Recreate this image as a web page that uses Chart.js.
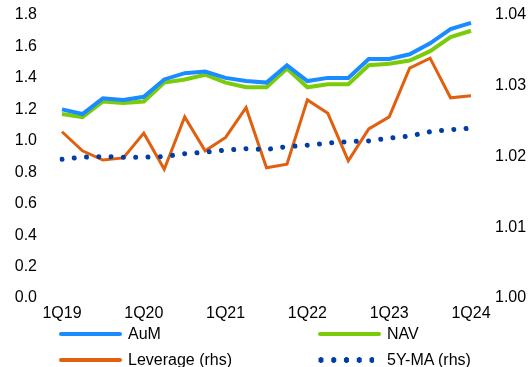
<!DOCTYPE html>
<html>
<head>
<meta charset="utf-8">
<script src="https://cdn.jsdelivr.net/npm/chart.js@4/dist/chart.umd.min.js"></script>
<style>
  body { margin: 0; background: #fff; font-family: "Liberation Sans", Arial, sans-serif; }
  #wrap { position: relative; width: 531px; height: 367px; }
  #legend { position: absolute; left: 0; top: 0; width: 531px; height: 367px; pointer-events: none; }
  .item { position: absolute; height: 20px; font-size: 16px; color: #000; line-height: 20px; }
  .item .swatch { position: absolute; left: 0; top: 8px; width: 63px; height: 4px; border-radius: 2px; }
  .item .dots { position: absolute; left: 0; top: 7px; width: 56px; height: 6px;
    background-image: radial-gradient(circle, #003da5 2.6px, transparent 3px);
    background-size: 12.75px 6px; background-position: -3.4px 0; }
  .item span { position: absolute; left: 69px; top: 0; white-space: nowrap; }
</style>
</head>
<body>
<div id="wrap">
  <canvas id="chart" width="531" height="367"></canvas>
  <div id="legend"></div>
</div>
<script>
var quarters = ["1Q19","2Q19","3Q19","4Q19","1Q20","2Q20","3Q20","4Q20","1Q21","2Q21","3Q21","4Q21",
                "1Q22","2Q22","3Q22","4Q22","1Q23","2Q23","3Q23","4Q23","1Q24"];
var aum = [1.20,1.17,1.27,1.26,1.28,1.39,1.43,1.44,1.40,1.38,1.37,1.48,1.38,1.40,1.40,1.52,1.52,1.55,1.62,1.71,1.75];
var nav = [1.17,1.15,1.25,1.24,1.25,1.37,1.39,1.42,1.37,1.34,1.34,1.46,1.34,1.36,1.36,1.48,1.49,1.51,1.57,1.66,1.70];
var leverage = [1.0235,1.0208,1.0195,1.0198,1.0233,1.0182,1.0256,1.0208,1.0227,1.0269,1.0184,1.0189,
                1.0280,1.0261,1.0194,1.0239,1.0256,1.0325,1.0339,1.0283,1.0286];
var movingAvg = [1.0196,1.0199,1.0200,1.0199,1.0199,1.0200,1.0204,1.0206,1.0209,1.0211,1.0210,1.0214,
                 1.0216,1.0219,1.0221,1.0222,1.0226,1.0229,1.0235,1.0238,1.0240];
var leftTicks = [0, 1.8, 0.2];      // min, max, step
var rightTicks = [1.00, 1.04, 0.01];

var colors = { aum: "#1a8cff", nav: "#7acc0a", lev: "#e0600f", ma: "#003da5" };

// fixed axis sizes so the plot area sits where the original one does
function fixWidth(w){
    return function(scale){
        scale.width = w;
        scale.paddingTop = 0;
        scale.paddingBottom = 0;
    };
}

var ctx = document.getElementById("chart");
var chart = new Chart(ctx, {
    type: "line",
    data: {
        labels: quarters,
        datasets: [
            { label: "AuM", data: aum, yAxisID: "y", borderColor: colors.aum, borderWidth: 4, order: 2 },
            { label: "NAV", data: nav, yAxisID: "y", borderColor: colors.nav, borderWidth: 4, order: 3 },
            { label: "Leverage (rhs)", data: leverage, yAxisID: "y2", borderColor: colors.lev, borderWidth: 3, order: 1 },
            { label: "5Y-MA (rhs)", data: movingAvg, yAxisID: "y2", borderColor: colors.ma, borderWidth: 5,
              borderDash: [0.001, 12.3], borderCapStyle: "round", order: 0 }
        ]
    },
    options: {
        responsive: false,
        animation: false,
        layout: { padding: { top: 15, left: 0, right: 0, bottom: 0 } },
        elements: { point: { radius: 0 }, line: { tension: 0, borderJoinStyle: "miter" } },
        plugins: { legend: { display: false }, tooltip: { enabled: false } },
        scales: {
            x: {
                offset: false,
                grid: { display: false, drawTicks: false },
                border: { display: false },
                afterFit: function(scale){
                    scale.height = 69;
                    scale.paddingLeft = 0;
                    scale.paddingRight = 0;
                },
                ticks: {
                    autoSkip: false, maxRotation: 0, padding: 6, color: "#000",
                    font: { family: "Liberation Sans", size: 16 },
                    callback: function(v, i){ return quarters[i].indexOf("1Q") === 0 ? quarters[i] : ""; }
                }
            },
            y: {
                position: "left",
                min: leftTicks[0], max: leftTicks[1],
                grid: { display: false, drawTicks: false },
                border: { display: false },
                afterFit: fixWidth(62),
                ticks: {
                    stepSize: leftTicks[2], padding: 25, color: "#000",
                    font: { family: "Liberation Sans", size: 16 },
                    callback: function(v){ return Number(v).toFixed(1); }
                }
            },
            y2: {
                position: "right",
                min: rightTicks[0], max: rightTicks[1],
                grid: { display: false, drawTicks: false },
                border: { display: false },
                afterFit: fixWidth(60),
                ticks: {
                    stepSize: rightTicks[2], padding: 24, color: "#000",
                    font: { family: "Liberation Sans", size: 16 },
                    callback: function(v){ return Number(v).toFixed(2); }
                }
            }
        }
    }
});

// legend in two columns under the plot
var legendItems = [
    { text: "AuM", color: colors.aum, left: 59, top: 324, dotted: false },
    { text: "NAV", color: colors.nav, left: 318, top: 324, dotted: false },
    { text: "Leverage (rhs)", color: colors.lev, left: 59, top: 350, dotted: false },
    { text: "5Y-MA (rhs)", color: colors.ma, left: 318, top: 350, dotted: true }
];
var legend = document.getElementById("legend");
legendItems.forEach(function(it){
    var d = document.createElement("div");
    d.className = "item";
    d.style.left = it.left + "px";
    d.style.top = it.top + "px";
    var sw = document.createElement("div");
    if (it.dotted){
        sw.className = "dots";
    } else {
        sw.className = "swatch";
        sw.style.background = it.color;
    }
    var t = document.createElement("span");
    t.textContent = it.text;
    d.appendChild(sw);
    d.appendChild(t);
    legend.appendChild(d);
});
</script>
</body>
</html>
